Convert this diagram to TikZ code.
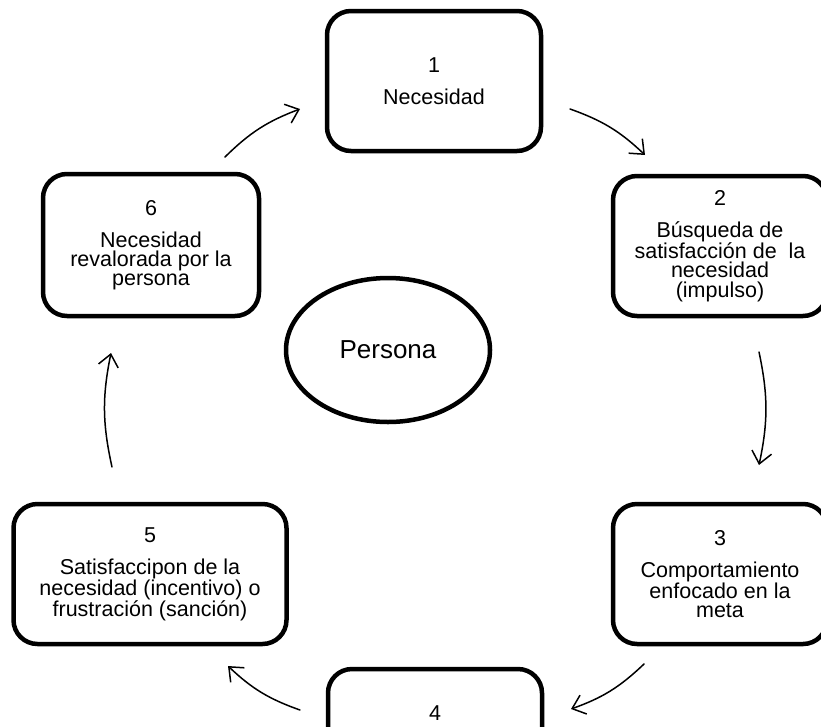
\documentclass[tikz,border=0pt]{standalone}
\usepackage{fontspec}
\setmainfont{Liberation Sans}
\usetikzlibrary{arrows.meta,shapes.geometric}
\begin{document}
\begin{tikzpicture}[x=1pt,y=-1pt,
  box/.style={draw,line width=4.5pt,rounded corners=24pt,align=center,
    font=\fontsize{21.5}{19.2}\selectfont,inner sep=0pt,
    minimum width=214pt,minimum height=140pt},
  txt/.style={font=\fontsize{21.5}{19.2}\selectfont,inner sep=0pt},
  cyc/.style={line width=1.5pt,line cap=round,-{Straight Barb[length=12pt,width=20pt]}}]
\useasboundingbox (0,0) rectangle (821,726);
\clip (0,0) rectangle (821,726);
\node[box] (b1) at (434,81) {1\\[12.8pt]Necesidad};
\node[box] (b2) at (720,246) {2\\[12.8pt]Búsqueda de\\satisfacción de~ la\\necesidad\\(impulso)};
\node[box] (b3) at (720,574) {3\\[12.8pt]Comportamiento\\enfocado en la\\meta};
\node[box] (b4) at (435,739) {};
\node[txt] (n4) at (435,713) {4};
\node[box,minimum width=273pt] (b5) at (150,574) {5\\[12.8pt]Satisfaccipon de la\\necesidad (incentivo) o\\frustración (sanción)};
\node[box,minimum width=216pt,minimum height=142pt] (b6) at (151,245) {6\\[12.8pt]Necesidad\\revalorada por la\\persona};
\node[draw,ellipse,line width=4.5pt,minimum width=204pt,minimum height=144pt,
  font=\fontsize{26}{30}\selectfont] (p) at (388,350) {Persona};
\coordinate (s12) at (570,109); \coordinate (e12) at (645,155);
\coordinate (s23) at (759,352); \coordinate (e23) at (759,465);
\coordinate (s34) at (644,664); \coordinate (e34) at (571,709);
\coordinate (s45) at (300,710); \coordinate (e45) at (228,666);
\coordinate (s56) at (112,467); \coordinate (e56) at (111,353);
\coordinate (s61) at (225,157); \coordinate (e61) at (300,109);
\draw[cyc] (s12) to[bend left=12] (e12);
\draw[cyc] (s23) to[bend left=12] (e23);
\draw[cyc] (s34) to[bend left=12] (e34);
\draw[cyc] (s45) to[bend left=12] (e45);
\draw[cyc] (s56) to[bend left=12] (e56);
\draw[cyc] (s61) to[bend left=12] (e61);
\end{tikzpicture}
\end{document}
